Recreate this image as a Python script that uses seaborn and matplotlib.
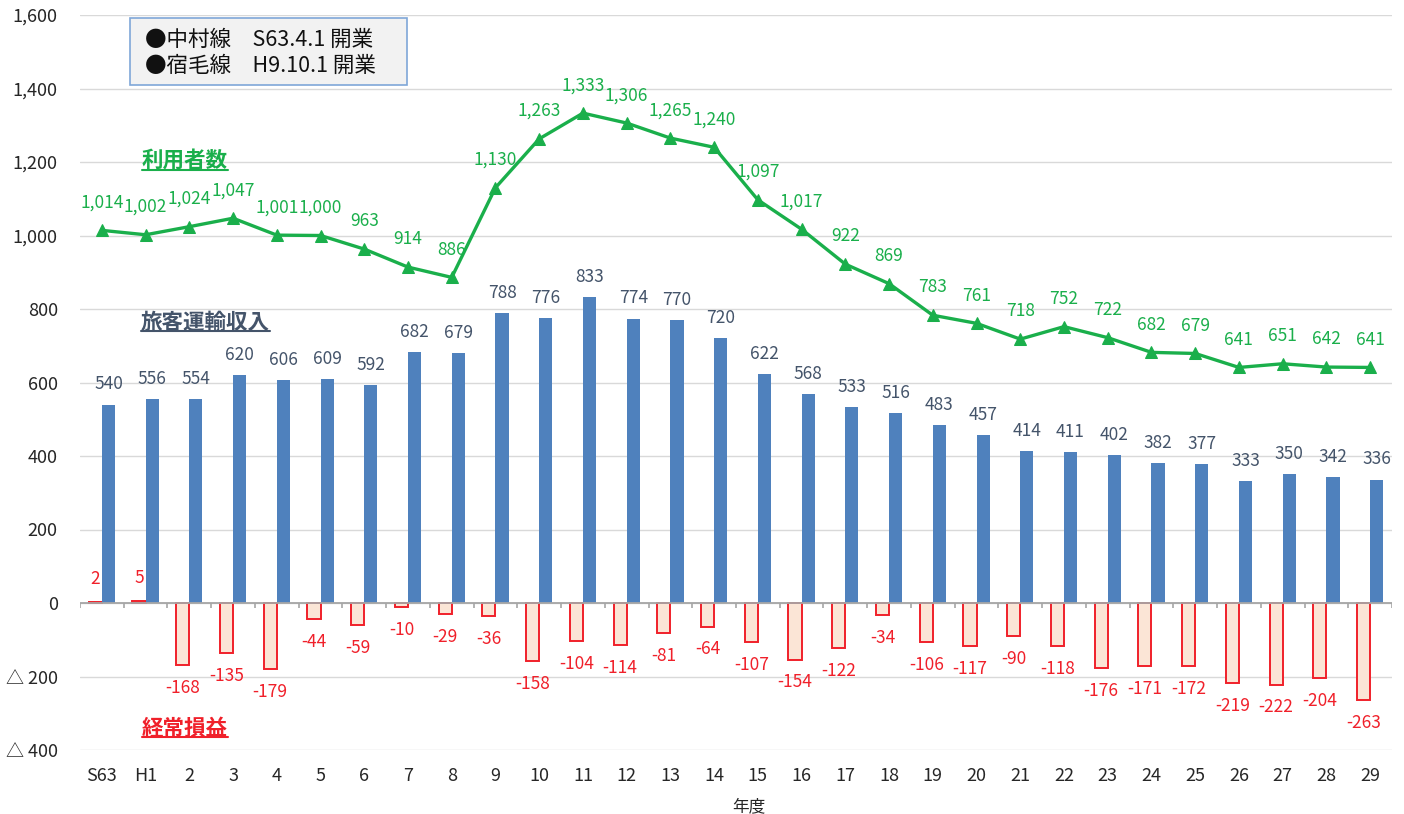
import numpy as np
import pandas as pd
import seaborn as sns
import matplotlib.pyplot as plt
from matplotlib.patches import Rectangle
from matplotlib.ticker import FuncFormatter

years = ['S63', 'H1'] + [str(i) for i in range(2, 30)]
users = [1014, 1002, 1024, 1047, 1001, 1000, 963, 914, 886, 1130, 1263, 1333, 1306, 1265, 1240,
         1097, 1017, 922, 869, 783, 761, 718, 752, 722, 682, 679, 641, 651, 642, 641]
revenue = [540, 556, 554, 620, 606, 609, 592, 682, 679, 788, 776, 833, 774, 770, 720,
           622, 568, 533, 516, 483, 457, 414, 411, 402, 382, 377, 333, 350, 342, 336]
profit = [2, 5, -168, -135, -179, -44, -59, -10, -29, -36, -158, -104, -114, -81, -64,
          -107, -154, -122, -34, -106, -117, -90, -118, -176, -171, -172, -219, -222, -204, -263]
notes = ['●中村線\u3000S63.4.1 開業', '●宿毛線\u3000H9.10.1 開業']

GREEN = '#1AAF4B'
BLUE = '#4F81BD'
SLATE = '#44546A'
RED = '#F0202A'
PINK = '#FBE5D6'

sns.set_style('white')
plt.rcParams['font.family'] = ['Noto Sans CJK JP', 'DejaVu Sans']

df = pd.DataFrame({
    'year': years * 2,
    'kind': ['経常損益'] * len(years) + ['旅客運輸収入'] * len(years),
    'value': profit + revenue,
})

fig = plt.figure(figsize=(14.04, 8.14), dpi=100)
ax = fig.add_axes([80 / 1404, 1 - 750 / 814, 1312 / 1404, 735 / 814])

sns.barplot(data=df, x='year', y='value', hue='kind', order=years,
            hue_order=['経常損益', '旅客運輸収入'], palette=[PINK, BLUE],
            width=0.6, saturation=1, errorbar=None, legend=False, ax=ax, zorder=2)

for bar in ax.containers[0]:
    bar.set_facecolor(PINK)
    bar.set_edgecolor(RED)
    bar.set_linewidth(1.4)
for bar in ax.containers[1]:
    bar.set_edgecolor('none')

ax.bar_label(ax.containers[1], labels=[str(v) for v in revenue], padding=8,
             color=SLATE, fontsize=12.5)
ax.bar_label(ax.containers[0], labels=[str(v) for v in profit], padding=10,
             color=RED, fontsize=12.5)

x = np.arange(len(years))
sns.lineplot(x=x, y=users, color=GREEN, lw=2.4, marker='^', markersize=8.5,
             markeredgecolor=GREEN, ax=ax, zorder=4)
for xi, v in zip(x, users):
    ax.annotate(f'{v:,}', (xi, v), xytext=(0, 20), textcoords='offset points',
                ha='center', va='center', color=GREEN, fontsize=12.5)

ax.set_xlim(-0.5, len(years) - 0.5)
ax.set_ylim(-400, 1600)
ax.set_yticks(range(-400, 1601, 200))
ax.yaxis.set_major_formatter(FuncFormatter(
    lambda v, p: f'{int(v):,}' if v >= 0 else f'△ {int(-v):,}'))
ax.yaxis.grid(True, color='#D9D9D9', lw=1)
ax.set_axisbelow(True)
for s in ax.spines.values():
    s.set_visible(False)
ax.axhline(0, color='#A6A6A6', lw=1.3, zorder=3)
ax.vlines(np.arange(len(years) + 1) - 0.5, -14, 0, color='#A6A6A6', lw=1.2, zorder=3)

ax.tick_params(axis='both', length=0, labelsize=13, colors='#262626')
ax.tick_params(axis='x', pad=12)
ax.tick_params(axis='y', pad=16)
ax.set_xlabel('年度', fontsize=12, color='#262626')
ax.xaxis.set_label_coords(0.51, -0.066)
ax.set_ylabel('')

# series names
names = [('利用者数', 1.9, 1205, GREEN), ('旅客運輸収入', 2.36, 765, SLATE),
         ('経常損益', 1.9, -340, RED)]
texts = []
for t, tx, ty, c in names:
    texts.append((ax.text(tx, ty, t, ha='center', va='center', color=c,
                          fontsize=15.5, fontweight='bold'), c))

# note box
ax.add_patch(Rectangle((0.038, 0.905), 0.211, 0.091, transform=ax.transAxes,
                       facecolor='#F2F2F2', edgecolor='#7FA7D8', lw=1.2, zorder=5))
ax.text(0.0495, 0.966, notes[0], transform=ax.transAxes, va='center', fontsize=15.5,
        color='#111111', zorder=6)
ax.text(0.0495, 0.931, notes[1], transform=ax.transAxes, va='center', fontsize=15.5,
        color='#111111', zorder=6)

# underline the series names
fig.canvas.draw()
r = fig.canvas.get_renderer()
inv = fig.transFigure.inverted()
for t, c in texts:
    bb = t.get_window_extent(r)
    (x0, y0), (x1, _) = inv.transform([(bb.x0, bb.y0 + 1), (bb.x1, bb.y0 + 1)])
    fig.add_artist(plt.Line2D([x0, x1], [y0, y0], color=c, lw=1.5))

fig.savefig('out.png', dpi=100)
